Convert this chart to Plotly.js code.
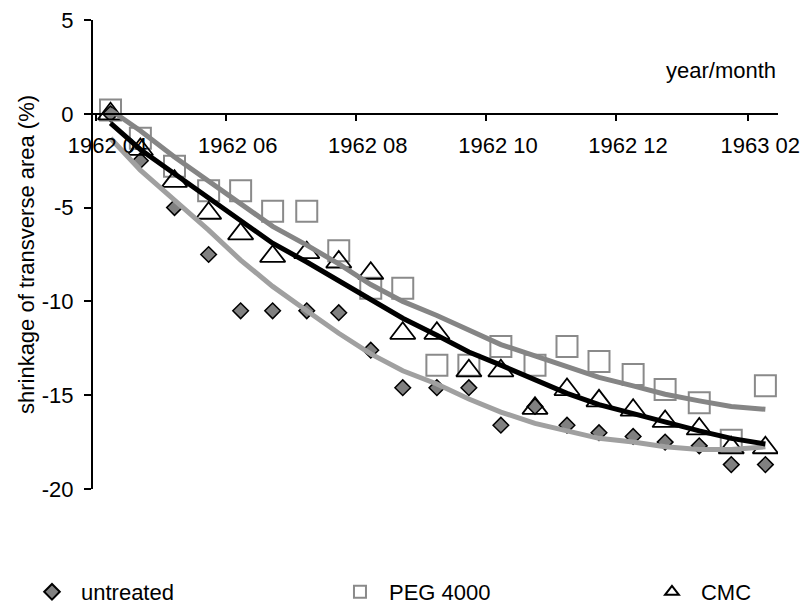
<!DOCTYPE html>
<html>
<head>
<meta charset="utf-8">
<script src="https://cdn.plot.ly/plotly-3.0.1.min.js"></script>
<style>html,body{margin:0;padding:0;background:#fff;}#chart{width:801px;height:606px;}</style>
</head>
<body>
<div id="chart"></div>
<script>
// sampling dates
const dates = ['1962-04-08','1962-04-22','1962-05-08','1962-05-24','1962-06-08','1962-06-23','1962-07-09','1962-07-24','1962-08-08','1962-08-23','1962-09-08','1962-09-23','1962-10-08','1962-10-24','1962-11-08','1962-11-23','1962-12-09','1962-12-24','1963-01-09','1963-01-24','1963-02-09'];
// measured shrinkage (%)
const untreated = [0,-2.5,-5.0,-7.5,-10.5,-10.5,-10.5,-10.6,-12.6,-14.6,-14.6,-14.6,-16.6,-15.6,-16.6,-17.0,-17.2,-17.5,-17.7,-18.7,-18.7];
const peg4000 = [0.2,-1.3,-2.8,-4.1,-4.1,-5.2,-5.2,-7.3,-9.3,-9.3,-13.4,-13.4,-12.4,-13.4,-12.4,-13.2,-13.9,-14.7,-15.4,-17.4,-14.5];
const cmc = [0,-1.9,-3.6,-5.3,-6.4,-7.6,-7.4,-7.9,-8.5,-11.7,-11.7,-13.7,-13.7,-15.7,-14.7,-15.3,-15.8,-16.4,-16.8,-17.8,-17.8];
// trend lines
const untreatedTrend = [-1.3,-3.0,-4.6,-6.2,-7.8,-9.2,-10.5,-11.7,-12.8,-13.7,-14.4,-15.2,-15.9,-16.5,-16.9,-17.3,-17.5,-17.75,-17.9,-17.9,-17.75];
const pegTrend = [0.2,-0.9,-2.3,-3.6,-4.8,-6.0,-7.0,-8.0,-9.1,-10.0,-10.75,-11.5,-12.3,-12.9,-13.5,-14.05,-14.5,-14.95,-15.3,-15.6,-15.75];
const cmcTrend = [-0.5,-1.9,-3.2,-4.5,-5.7,-6.9,-7.9,-8.9,-9.9,-10.9,-11.8,-12.7,-13.4,-14.2,-14.9,-15.5,-16.0,-16.4,-16.9,-17.3,-17.6];
// axis ticks
const xTickVals = ['1962-04-01','1962-06-01','1962-08-01','1962-10-01','1962-12-01','1963-02-01'];
const xTickText = ['1962 04','1962 06','1962 08','1962 10','1962 12','1963 02'];
const yTickVals = [-20,-15,-10,-5,0,5];
const yTickText = ['-20','-15','-10','-5','0','5'];
const seriesNames = ['untreated','PEG 4000','CMC'];

const FONT = 'Liberation Sans, Arial, sans-serif';

const traces = [
  {x: dates, y: untreated, name: seriesNames[0], type: 'scatter', mode: 'markers', legend: 'legend',
   marker: {symbol: 'diamond', size: 12, color: '#808080', line: {color: '#000000', width: 1.5}}},
  {x: dates, y: peg4000, name: seriesNames[1], type: 'scatter', mode: 'markers', legend: 'legend2',
   marker: {symbol: 'square-open', size: 21, color: '#8a8a8a', line: {color: '#8a8a8a', width: 2}}},
  {x: dates, y: cmc, name: seriesNames[2], type: 'scatter', mode: 'markers', legend: 'legend3',
   marker: {symbol: 'triangle-up', size: 22, color: 'rgba(255,255,255,0)', line: {color: '#000000', width: 1.8}}},
  {x: dates, y: untreatedTrend, type: 'scatter', mode: 'lines', showlegend: false, hoverinfo: 'skip',
   line: {color: '#a0a0a0', width: 5}},
  {x: dates, y: pegTrend, type: 'scatter', mode: 'lines', showlegend: false, hoverinfo: 'skip',
   line: {color: '#858585', width: 5}},
  {x: dates, y: cmcTrend, type: 'scatter', mode: 'lines', showlegend: false, hoverinfo: 'skip',
   line: {color: '#000000', width: 5}}
];

function legendAt(xpos) {
  return {orientation: 'h', xref: 'container', yref: 'container', x: xpos, y: 0.0231,
          xanchor: 'left', yanchor: 'middle', itemwidth: 48,
          itemsizing: 'constant', font: {family: FONT, size: 22, color: '#000'},
          bgcolor: 'rgba(0,0,0,0)', borderwidth: 0};
}

const layout = {
  width: 801, height: 606,
  margin: {l: 93, r: 23, t: 20, b: 117},
  paper_bgcolor: '#ffffff', plot_bgcolor: '#ffffff',
  font: {family: FONT, size: 22, color: '#000000'},
  showlegend: true,
  legend: legendAt(0.0287),
  legend2: legendAt(0.4132),
  legend3: legendAt(0.8027),
  xaxis: {type: 'date', range: ['1962-03-30 19:00', '1963-02-14 22:00'],
          anchor: 'free', position: 0.8,
          tickmode: 'array', tickvals: xTickVals, ticktext: xTickText,
          ticks: 'outside', ticklen: 6, tickwidth: 2, tickcolor: '#000',
          showline: true, linecolor: '#000', linewidth: 2,
          showgrid: false, zeroline: false, ticklabelshift: 12, ticklabelstandoff: 6,
          tickfont: {family: FONT, size: 22, color: '#000'}},
  yaxis: {range: [-20, 5], tickmode: 'array', tickvals: yTickVals, ticktext: yTickText,
          ticks: 'outside', ticklen: 7, tickwidth: 2, tickcolor: '#000',
          showline: true, linecolor: '#000', linewidth: 2,
          showgrid: false, zeroline: false, ticklabelstandoff: 6,
          tickfont: {family: FONT, size: 22, color: '#000'},
          title: {text: 'shrinkage of transverse area (%)', font: {family: FONT, size: 22, color: '#000'}, standoff: 1}},
  annotations: [
    {text: 'year/month', xref: 'paper', yref: 'paper', x: 1, y: 0.892, xanchor: 'right', yanchor: 'middle',
     showarrow: false, font: {family: FONT, size: 22, color: '#000'}}
  ]
};

Plotly.newPlot('chart', traces, layout, {displayModeBar: false, staticPlot: true});
</script>
</body>
</html>
